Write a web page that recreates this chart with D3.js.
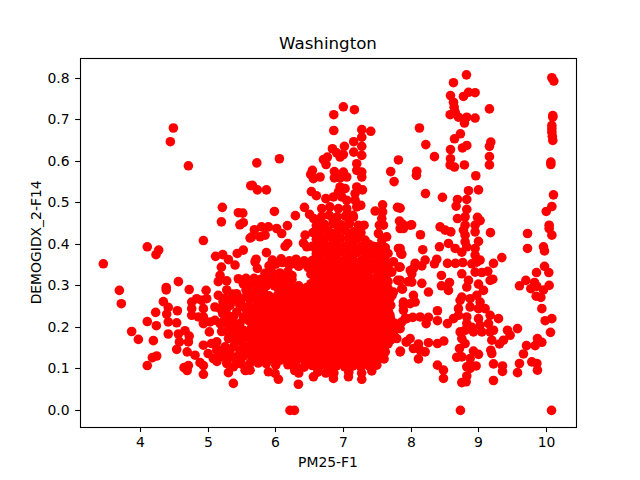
<!DOCTYPE html>
<html>
<head>
<meta charset="utf-8">
<script src="https://cdn.jsdelivr.net/npm/d3@7"></script>
<style>
html,body{margin:0;padding:0;background:#fff;}
svg text{font-family:"DejaVu Sans",sans-serif;fill:#000;}
</style>
</head>
<body>
<div id="chart"></div>
<script>
// [PM25-F1, DEMOGIDX_2-F14] pairs, grouped by area of the plot
const westTail = [[4.486,.68],[4.441,.647],[4.708,.589],[4.93,.409],[4.1,.394],[4.269,.386],[4.229,.375],[3.45,.353],[4.56,.31],[4.38,.296],[4.38,.29],[4.72,.291],[4.97,.289],[3.687,.289],[3.716,.257],[4.338,.262],[4.41,.248],[4.545,.24],[4.224,.236],[4.387,.232],[4.41,.213],[4.535,.211],[4.1,.214],[4.234,.204],[3.869,.19],[3.968,.171],[4.19,.168],[4.41,.184],[4.56,.184],[4.658,.192],[4.72,.179],[4.575,.165],[4.708,.165],[4.535,.147],[4.69,.141],[4.806,.133],[4.239,.131],[4.175,.127],[4.1,.108],[4.708,.108],[4.643,.103],[4.69,.096],[4.88,.115],[4.93,.108],[4.93,.087]];
const lowBand = [[5.21,.489],[5.196,.454],[5.447,.476],[5.512,.475],[5.52,.452],[5.47,.447],[5.11,.371],[5.216,.375],[5.3,.363],[5.398,.35],[5.43,.378],[5.52,.386],[5.62,.415],[5.196,.345],[5.176,.325],[5.15,.31],[5.275,.312],[5.447,.317],[5.52,.305],[5.373,.065],[5.3,.091],[5.556,.096],[4.757,.261],[4.757,.245],[4.757,.229],[4.831,.269],[4.905,.265],[4.979,.269],[4.93,.245],[4.93,.225],[4.856,.225],[4.93,.209],[5.028,.213],[5.018,.189],[5.1,.249],[5.176,.245],[5.275,.29],[5.15,.277],[5.42,.281],[4.93,.157],[5.05,.161],[5.127,.165],[5,.137],[5.077,.125],[5.127,.145],[5.225,.129],[5.275,.113],[5.373,.105],[5.42,.129],[5.3,.173],[5.447,.169],[5.57,.177],[5.57,.145],[5.47,.145],[5.324,.145],[5.216,.233],[5.373,.225],[5.275,.209],[5.47,.209],[5.57,.221],[5.57,.241],[5.47,.253],[5.324,.253],[5.423,.237],[5.373,.193],[5.52,.193],[5.176,.209],[5.1,.217],[5.25,.27],[5.35,.268],[5.5,.27],[5.56,.29],[5.2,.19],[5.13,.118],[5.49,.112],[5.25,.153],[5.22,.262],[5.27,.245],[5.3,.228],[5.22,.213],[5.32,.207],[5.42,.207],[5.28,.19],[5.44,.19],[5.38,.175],[5.5,.172],[5.38,.155],[5.52,.157],[5.2,.145],[5.18,.131],[5.3,.127],[5.36,.128],[5.52,.13],[5.28,.14],[5.43,.113],[5.36,.28],[5.52,.25],[5.52,.225],[5.42,.265]];
const upperMiddle = [[7,.731],[7.163,.724],[6.858,.712],[6.858,.674],[7.272,.676],[7.405,.672],[7.272,.658],[7.153,.647],[7.272,.636],[7.153,.622],[7.272,.614],[7.198,.594],[7.272,.574],[7.198,.578],[7.272,.562],[7.015,.636],[6.838,.63],[6.902,.62],[6.764,.61],[6.705,.604],[6.744,.592],[6.951,.61],[7,.616],[6.054,.606],[5.72,.596],[7.814,.603],[7.7,.575],[7.75,.551],[6.542,.578],[6.517,.568],[6.557,.558],[6.655,.562],[6.867,.575],[6.867,.56],[7,.574],[7.05,.562],[6.951,.56],[5.63,.541],[5.654,.542],[5.728,.531],[5.862,.531],[6.951,.538],[7.025,.534],[6.927,.526],[7.198,.538],[7.282,.531],[7.173,.522],[6.527,.527],[6.6,.517],[6.74,.51],[6.853,.514],[6.976,.514],[7.05,.506],[7.173,.506],[7.198,.49],[7.257,.494],[6.424,.489],[5.98,.479],[6.29,.469],[6.5,.472],[6.68,.486],[6.8,.49],[6.927,.486],[7.05,.486],[7.58,.495],[7.47,.48],[7.58,.478],[7.8,.489],[7.83,.456],[7.89,.446],[7.84,.438],[7.99,.446],[7.568,.462],[7.533,.446],[7.592,.446],[6.172,.445],[6.014,.438],[6.088,.426],[5.891,.442],[5.79,.442],[5.684,.435],[5.842,.422],[5.768,.418],[5.645,.418],[7.306,.446],[7.149,.466],[7.222,.446],[7.518,.426],[7.64,.418],[7.814,.39],[7.85,.378],[6.177,.402],[6.138,.395],[5.862,.38],[6.434,.422],[6.409,.403],[6.458,.394],[5.709,.364],[5.694,.358],[5.728,.342],[7.74,.358],[7.824,.345],[7.716,.333],[7.804,.313],[7.873,.292],[7.74,.285],[7.99,.337],[7.96,.31],[7.7,.253],[7.888,.253],[7.888,.241],[7.937,.221],[7.864,.213],[7.79,.173],[7.937,.165],[7.844,.143],[7.987,.173],[7.602,.124],[7.494,.109],[7.42,.095],[7.272,.075],[7.075,.081],[6.853,.077],[6.557,.081],[6.335,.063],[6.039,.075],[5.99,.089],[5.891,.093],[5.62,.097],[5.546,.097],[6.21,0],[6.276,0]];
const denseTop = [[6.56,.462],[6.68,.467],[6.79,.47],[6.91,.466],[7.03,.468],[7.14,.47],[6.6,.445],[6.72,.448],[6.85,.45],[6.97,.447],[7.09,.45],[7.2,.43],[6.55,.428],[6.66,.43],[6.78,.432],[6.91,.431],[7.03,.433],[7.15,.43],[7.26,.428],[6.6,.412],[6.72,.414],[6.84,.413],[6.96,.415],[7.08,.412],[7.2,.414],[7.32,.41],[7.44,.395],[7.57,.41],[6.54,.395],[6.66,.397],[6.78,.396],[6.9,.398],[7.02,.396],[7.14,.397],[7.26,.395],[7.38,.392],[7.5,.394],[7.62,.392],[6.6,.378],[6.72,.38],[6.84,.379],[6.96,.381],[7.08,.379],[7.2,.38],[7.32,.377],[7.44,.378],[7.56,.376],[7.66,.378],[6.3,.352],[6.42,.36],[6.54,.361],[6.66,.363],[6.78,.362],[6.9,.364],[7.02,.362],[7.14,.363],[7.26,.36],[7.38,.361],[7.5,.36],[7.62,.361],[5.95,.362],[6.08,.365],[6.2,.36],[6.3,.364],[6.62,.454],[6.85,.458],[7.08,.46],[6.72,.44],[6.98,.44],[6.61,.422],[6.84,.422],[7.09,.423],[6.66,.405],[6.9,.405],[7.14,.405],[7.38,.4],[6.6,.387],[6.84,.388],[7.08,.388],[7.32,.387],[7.56,.385],[6.6,.37],[6.84,.37],[7.08,.37],[7.32,.37],[7.56,.368]];
const denseUpper = [[5.9,.348],[6.0,.352],[6.1,.356],[6.2,.35],[6.34,.347],[6.48,.344],[6.6,.346],[6.72,.345],[6.84,.347],[6.96,.346],[7.08,.345],[7.2,.346],[7.32,.344],[7.44,.345],[7.56,.343],[7.66,.345],[5.84,.33],[5.94,.333],[6.06,.331],[6.18,.334],[6.52,.328],[6.64,.329],[6.76,.33],[6.88,.328],[7,.329],[7.12,.33],[7.24,.328],[7.36,.329],[7.54,.328],[7.64,.326],[5.56,.318],[5.68,.318],[5.78,.316],[5.9,.315],[6.0,.316],[6.12,.317],[6.24,.315],[6.58,.312],[6.7,.313],[6.82,.312],[6.94,.319],[7.06,.312],[7.18,.313],[7.3,.311],[7.42,.312],[7.54,.311],[7.66,.31],[5.62,.301],[5.74,.302],[5.86,.3],[5.98,.3],[6.1,.301],[6.22,.299],[6.34,.3],[6.46,.296],[6.58,.296],[6.7,.297],[6.82,.295],[6.94,.29],[7.06,.296],[7.18,.295],[7.3,.296],[7.42,.294],[7.54,.295],[7.66,.294],[5.58,.284],[5.7,.285],[5.82,.285],[6.06,.284],[6.18,.285],[6.3,.283],[6.42,.28],[6.54,.279],[6.66,.28],[6.78,.279],[6.9,.278],[7.02,.279],[7.14,.28],[7.26,.278],[7.38,.279],[7.5,.278],[7.62,.279],[7.72,.277]];
const denseLower = [[5.62,.267],[5.72,.268],[5.86,.267],[5.98,.268],[6.1,.266],[6.22,.267],[6.34,.265],[6.46,.263],[6.58,.262],[6.7,.263],[6.82,.262],[6.94,.261],[7.06,.262],[7.18,.263],[7.3,.261],[7.42,.262],[7.54,.261],[7.66,.262],[5.6,.25],[5.7,.249],[5.82,.25],[5.94,.251],[6.06,.249],[6.18,.25],[6.3,.248],[6.42,.247],[6.54,.245],[6.66,.246],[6.78,.245],[6.9,.244],[7.02,.245],[7.14,.246],[7.26,.244],[7.38,.245],[7.5,.244],[7.62,.245],[5.65,.233],[5.77,.234],[5.89,.233],[6.01,.234],[6.13,.232],[6.25,.233],[6.37,.231],[6.49,.23],[6.61,.228],[6.73,.229],[6.85,.228],[6.97,.227],[7.09,.228],[7.21,.229],[7.33,.227],[7.45,.228],[7.57,.227],[7.69,.228],[5.6,.216],[5.72,.217],[5.84,.216],[5.96,.217],[6.08,.215],[6.2,.216],[6.32,.214],[6.44,.213],[6.56,.211],[6.68,.212],[6.8,.211],[6.92,.21],[7.04,.211],[7.16,.212],[7.28,.21],[7.4,.211],[7.52,.21],[7.64,.211],[7.76,.21],[5.64,.199],[5.76,.2],[5.88,.199],[6,.2],[6.12,.198],[6.24,.199],[6.36,.197],[6.48,.196],[6.6,.194],[6.72,.195],[6.84,.194],[6.96,.193],[7.08,.194],[7.2,.195],[7.32,.193],[7.44,.194],[7.56,.193],[7.68,.194],[5.6,.182],[5.72,.183],[5.84,.182],[5.96,.183],[6.08,.181],[6.2,.182],[6.32,.18],[6.44,.179],[6.56,.177],[6.68,.178],[6.8,.177],[6.92,.176],[7.04,.177],[7.16,.178],[7.28,.176],[7.4,.177],[7.52,.176],[7.64,.177],[7.74,.186],[5.64,.165],[5.76,.166],[5.88,.165],[6,.166],[6.12,.164],[6.24,.165],[6.36,.163],[6.48,.162],[6.6,.16],[6.72,.161],[6.84,.16],[6.96,.159],[7.08,.16],[7.2,.161],[7.32,.159],[7.44,.16],[7.56,.159],[7.66,.16],[5.6,.148],[5.72,.149],[5.84,.148],[5.96,.149],[6.08,.147],[6.2,.148],[6.32,.146],[6.44,.145],[6.56,.143],[6.68,.144],[6.8,.143],[6.92,.142],[7.04,.143],[7.16,.144],[7.28,.142],[7.4,.143],[7.52,.142],[7.62,.141],[5.64,.131],[5.76,.132],[5.88,.131],[6,.132],[6.12,.13],[6.24,.131],[6.36,.129],[6.48,.128],[6.6,.126],[6.72,.127],[6.84,.126],[6.96,.125],[7.08,.126],[7.2,.127],[7.32,.125],[7.44,.126],[7.54,.125],[5.62,.114],[5.74,.114],[5.86,.113],[6.0,.109],[6.18,.11],[6.3,.108],[6.42,.104],[6.54,.108],[6.66,.108],[6.78,.104],[6.9,.107],[7.02,.105],[7.14,.107],[7.26,.104],[7.38,.107],[6.34,.09],[6.28,.096],[6.62,.092],[6.74,.09],[6.86,.09],[7.08,.092],[7.27,.09]];
const denseFill = [[5.69,.123],[5.81,.122],[5.94,.124],[6.07,.121],[6.18,.123],[6.3,.12],[6.43,.118],[6.54,.117],[6.66,.118],[6.78,.116],[6.9,.116],[7.02,.117],[7.14,.118],[7.26,.115],[7.38,.117],[7.49,.116],[5.68,.14],[5.8,.14],[5.92,.141],[6.04,.14],[6.16,.139],[6.28,.139],[6.41,.137],[6.53,.136],[6.64,.135],[6.76,.135],[6.88,.134],[7,.134],[7.12,.135],[7.24,.135],[7.36,.134],[7.48,.134],[7.58,.133],[5.7,.157],[5.82,.157],[5.94,.157],[6.06,.156],[6.18,.156],[6.3,.155],[6.42,.154],[6.54,.152],[6.66,.152],[6.78,.151],[6.9,.151],[7.02,.151],[7.14,.152],[7.26,.151],[7.38,.151],[7.5,.15],[7.6,.15],[5.68,.174],[5.8,.174],[5.92,.174],[6.04,.174],[6.16,.173],[6.28,.173],[6.4,.171],[6.52,.17],[6.64,.169],[6.76,.169],[6.88,.168],[7,.168],[7.12,.169],[7.24,.168],[7.36,.168],[7.48,.168],[7.6,.168],[7.7,.17],[5.66,.191],[5.78,.191],[5.9,.191],[6.02,.191],[6.14,.19],[6.26,.19],[6.38,.188],[6.5,.187],[6.62,.186],[6.74,.186],[6.86,.185],[6.98,.185],[7.1,.186],[7.22,.186],[7.34,.185],[7.46,.185],[7.58,.185],[7.7,.185],[5.68,.208],[5.8,.208],[5.92,.208],[6.04,.207],[6.16,.207],[6.28,.207],[6.4,.205],[6.52,.204],[6.64,.203],[6.76,.203],[6.88,.202],[7,.202],[7.12,.203],[7.24,.203],[7.36,.202],[7.48,.202],[7.6,.202],[7.72,.202],[5.66,.225],[5.78,.225],[5.9,.225],[6.02,.225],[6.14,.224],[6.26,.224],[6.38,.222],[6.5,.221],[6.62,.22],[6.74,.22],[6.86,.219],[6.98,.219],[7.1,.22],[7.22,.22],[7.34,.219],[7.46,.219],[7.58,.219],[7.7,.219],[5.66,.241],[5.76,.242],[5.88,.242],[6,.242],[6.12,.241],[6.24,.241],[6.36,.24],[6.48,.238],[6.6,.237],[6.72,.237],[6.84,.236],[6.96,.236],[7.08,.237],[7.2,.237],[7.32,.236],[7.44,.236],[7.56,.236],[7.67,.236],[5.78,.258],[5.9,.259],[6.02,.259],[6.14,.258],[6.26,.258],[6.38,.256],[6.5,.254],[6.62,.254],[6.74,.254],[6.86,.253],[6.98,.253],[7.1,.254],[7.22,.254],[7.34,.253],[7.46,.253],[7.58,.253],[7.68,.254],[5.66,.276],[5.76,.276],[5.9,.276],[6.02,.276],[6.14,.275],[6.26,.275],[6.38,.273],[6.5,.271],[6.62,.271],[6.74,.271],[6.86,.27],[6.98,.27],[7.1,.271],[7.22,.271],[7.34,.27],[7.46,.27],[7.58,.27],[7.69,.27],[5.8,.293],[6.04,.292],[6.16,.292],[6.28,.291],[6.4,.29],[6.52,.288],[6.64,.288],[6.76,.288],[6.88,.287],[7,.287],[7.12,.288],[7.24,.288],[7.36,.287],[7.48,.287],[7.6,.287],[5.96,.308],[6.06,.309],[6.18,.308],[6.52,.305],[6.64,.305],[6.76,.305],[6.88,.304],[7,.304],[7.12,.305],[7.24,.304],[7.36,.303],[7.48,.303],[7.6,.303],[6.1,.324],[6.24,.325],[6.58,.321],[6.7,.321],[6.82,.32],[7.06,.321],[7.18,.321],[7.3,.32],[7.48,.32],[7.6,.318],[6.54,.338],[6.66,.338],[6.78,.338],[6.9,.337],[7.02,.337],[7.14,.338],[7.26,.337],[7.38,.337],[7.5,.336],[7.62,.335],[6.44,.352],[6.6,.354],[6.72,.354],[6.84,.355],[6.96,.355],[7.08,.354],[7.2,.354],[7.32,.353],[7.44,.353],[7.56,.352]];
const eastBand = [[8.82,.808],[8.628,.789],[10.083,.801],[10.112,.793],[8.948,.765],[8.85,.766],[8.776,.756],[8.584,.758],[8.628,.742],[8.638,.73],[8.653,.718],[9.16,.726],[8.579,.712],[8.702,.706],[8.825,.706],[8.948,.704],[8.79,.692],[10.097,.71],[10.097,.706],[10.083,.686],[10.083,.678],[10.083,.67],[10.09,.66],[10.097,.65],[8.125,.68],[8.731,.666],[8.643,.654],[8.219,.64],[8.825,.638],[8.761,.632],[9.18,.646],[9.16,.636],[8.584,.628],[8.347,.611],[9.16,.611],[9.16,.591],[8.584,.606],[8.579,.591],[8.643,.586],[8.79,.591],[10.068,.598],[10.068,.592],[8.085,.576],[8.08,.566],[8.958,.565],[8.85,.529],[8.998,.531],[8.214,.522],[10.107,.519],[8.465,.513],[8.687,.508],[8.825,.508],[8.667,.492],[10.083,.491],[10,.479],[8.825,.484],[8.687,.462],[8.8,.466],[8.983,.465],[9.022,.457],[7.839,.487],[7.864,.45],[7.888,.438],[8.01,.447],[10.043,.446],[10.043,.438],[10.083,.422],[8.43,.442],[8.505,.434],[8.589,.43],[8.8,.446],[8.776,.434],[8.8,.422],[8.948,.446],[8.948,.43],[9.175,.428],[9.723,.426],[8.14,.423],[8.998,.407],[8.8,.406],[8.825,.394],[8.554,.402],[8.653,.39],[8.751,.381],[8.421,.394],[8.948,.39],[8.948,.374],[9.723,.39],[9.959,.394],[9.974,.384],[8.174,.387],[7.839,.39],[7.864,.376],[9.343,.368],[9.22,.354],[9.022,.362],[8.381,.364],[8.347,.353],[8.209,.362],[8.16,.348],[8.061,.354],[8.036,.342],[8.54,.354],[8.657,.354],[8.766,.356],[8.899,.353],[8.973,.357],[9.974,.347],[10.038,.332],[9.856,.332],[9.136,.335],[9.047,.332],[8.948,.333],[7.839,.345],[8.012,.329],[8.012,.309],[8.751,.329],[8.85,.313],[8.45,.325],[9.17,.313],[9.21,.316],[9.698,.313],[9.604,.3],[9.826,.308],[9.772,.293],[9.86,.299],[9.959,.29],[10.043,.301],[8.569,.308],[8.554,.289],[8.45,.3],[8.16,.306],[8.258,.285],[8.825,.297],[8.998,.304],[9.072,.289],[7.84,.313],[7.864,.293],[9.851,.275],[9.92,.272],[8.751,.273],[8.726,.265],[8.874,.269],[8.973,.277],[8.036,.277],[8.061,.261],[7.987,.257],[7.888,.261],[9.935,.245],[8.391,.24],[9.022,.261],[9.096,.245],[8.998,.245],[8.874,.249],[8.702,.245],[10.083,.221],[9.984,.216],[9.294,.221],[9.17,.229],[8.391,.216],[8.258,.224],[8.224,.209],[8.135,.225],[8.026,.224],[7.913,.221],[7.839,.197],[8.539,.209],[8.628,.221],[8.702,.229],[8.825,.225],[8.825,.209],[8.998,.221],[9.146,.209],[9.022,.205],[8.899,.2],[8.727,.189],[8.8,.193],[8.924,.189],[9.047,.189],[9.17,.189],[9.22,.193],[9.575,.197],[9.427,.193],[9.466,.181],[10.063,.188],[9.368,.169],[9.308,.16],[9.195,.169],[8.751,.173],[8.8,.161],[8.485,.167],[8.391,.161],[8.258,.163],[7.928,.165],[8.11,.16],[8.036,.149],[8.135,.145],[8.209,.141],[7.839,.141],[9.935,.164],[9.87,.173],[9.836,.156],[9.708,.156],[9.663,.136],[9.18,.145],[9.195,.137],[8.717,.149],[8.677,.128],[8.998,.135],[8.924,.143],[8.874,.125],[8.751,.129],[9.22,.112],[8.11,.124],[8.391,.109],[8.48,.097],[8.48,.077],[8.874,.109],[8.963,.107],[8.825,.105],[8.874,.101],[9.353,.107],[9.353,.094],[9.604,.113],[9.575,.091],[9.786,.117],[9.861,.113],[9.87,.097],[8.825,.083],[8.815,.069],[8.751,.067],[9.22,.072],[8.731,0],[10.078,0]];

const xTicks = [4,5,6,7,8,9,10];
const yTicks = [0,.1,.2,.3,.4,.5,.6,.7,.8];

const width = 640, height = 480;
const m = {t:57.6,r:64,b:52.8,l:80};

const svg = d3.select('#chart').append('svg')
	.attr('width',width)
	.attr('height',height)
	.style('display','block');

const scaleX = d3.scaleLinear().domain([3.105,10.44]).range([m.l,width-m.r]);
const scaleY = d3.scaleLinear().domain([-0.0404,0.8495]).range([height-m.b,m.t]);

const points = [westTail,lowBand,upperMiddle,denseTop,denseUpper,denseLower,denseFill,eastBand].flat();

svg.append('g').attr('class','points')
	.selectAll('circle')
	.data(points)
	.enter()
	.append('circle')
	.attr('cx',d=>scaleX(d[0]))
	.attr('cy',d=>scaleY(d[1]))
	.attr('r',4.8)
	.style('fill','#ff0000');

const axisX = d3.axisBottom(scaleX).tickValues(xTicks).tickFormat(d3.format('d')).tickSize(4.86).tickSizeOuter(0).tickPadding(4.9).offset(0);
const axisY = d3.axisLeft(scaleY).tickValues(yTicks).tickFormat(d3.format('.1f')).tickSize(4.86).tickSizeOuter(0).tickPadding(5.6).offset(0);

const gx = svg.append('g').attr('transform',`translate(0,${height-m.b})`).call(axisX);
const gy = svg.append('g').attr('transform',`translate(${m.l},0)`).call(axisY);
[gx,gy].forEach(g=>{
	g.select('.domain').remove();
	g.selectAll('.tick line').style('stroke','#000').style('stroke-width',1.1);
	g.selectAll('.tick text').style('font-size','13.9px').style('font-family','"DejaVu Sans",sans-serif');
});
//snap ticks to the pixel grid so they stay crisp
gx.selectAll('.tick').attr('transform',d=>`translate(${Math.floor(scaleX(d))+.5},0)`);
gy.selectAll('.tick').attr('transform',d=>`translate(0,${Math.floor(scaleY(d))+.5})`);

//frame on top of the points
svg.append('rect')
	.attr('x',m.l+.5)
	.attr('y',m.t+.9)
	.attr('width',width-m.l-m.r)
	.attr('height',height-m.t-m.b-.6)
	.style('fill','none')
	.style('stroke','#000')
	.style('stroke-width',1.1);

svg.append('text')
	.attr('x',(m.l+width-m.r)/2)
	.attr('y',49)
	.attr('text-anchor','middle')
	.style('font-size','16.67px')
	.text('Washington');

svg.append('text')
	.attr('x',(m.l+width-m.r)/2)
	.attr('y',467)
	.attr('text-anchor','middle')
	.style('font-size','13.9px')
	.text('PM25-F1');

svg.append('text')
	.attr('transform',`translate(41,${(m.t+height-m.b)/2}) rotate(-90)`)
	.attr('text-anchor','middle')
	.style('font-size','13.9px')
	.text('DEMOGIDX_2-F14');
</script>
</body>
</html>
